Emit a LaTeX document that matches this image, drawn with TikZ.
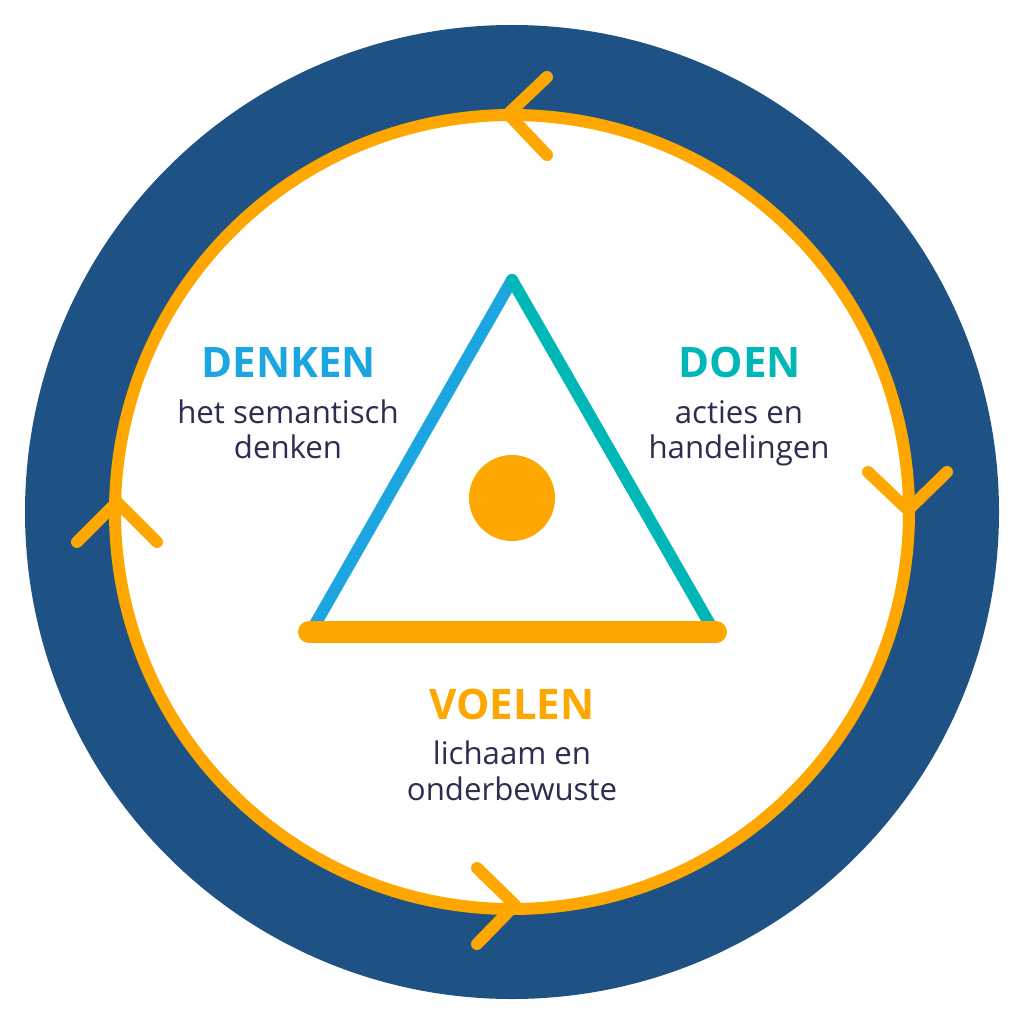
\documentclass[tikz,border=0pt]{standalone}
\usepackage{fontspec}
\setmainfont{Open Sans}
\definecolor{navy}{HTML}{1F5284}
\definecolor{orng}{HTML}{FDA700}
\definecolor{skyb}{HTML}{1BA6E2}
\definecolor{tealc}{HTML}{00B7B8}
\definecolor{txtc}{HTML}{2B2E4E}
\tikzset{
  chev/.style={draw=orng, line width=12pt, line cap=round, line join=round},
  edge/.style={line width=12pt, line cap=round},
  head/.style={font=\fontsize{42}{47}\selectfont\bfseries, anchor=base, inner sep=0pt},
  body/.style={font=\fontsize{31.2}{35}\selectfont, text=txtc, anchor=base, inner sep=0pt},
}
\begin{document}
\begin{tikzpicture}[x=1pt,y=-1pt]
\useasboundingbox (0,0) rectangle (1024,1024);
\fill[navy] (512,512) circle (487);
\fill[white] (512,512) circle (397);
\draw[orng, line width=12pt] (512,512) circle (397);
% chevrons
\draw[chev] (547,77) -- (508,114) -- (547,155);
\draw[chev] (868,472) -- (908,510) -- (947,472);
\draw[chev] (477,868) -- (515,905) -- (477,944);
\draw[chev] (77,542) -- (117,502) -- (157,542);
% triangle
\coordinate (apex) at (512,280);
\coordinate (bl) at (313,628);
\coordinate (br) at (712,628);
\coordinate (bl2) at (309,632);
\coordinate (br2) at (716,632);
\draw[edge, skyb] (bl) -- (apex);
\draw[edge, tealc] (apex) -- (br);
\draw[orng, line width=22pt, line cap=round] (bl2) -- (br2);
\fill[orng] (512,498) circle (43);
% texts
\node[head, text=skyb] (denken) at (289,377) {DENKEN};
\node[body] (denk1) at (288,423) {het semantisch};
\node[body] (denk2) at (288,458) {denken};
\node[head, text=tealc] (doen) at (740,377) {DOEN};
\node[body] (doen1) at (739,423) {acties en};
\node[body] (doen2) at (739,458) {handelingen};
\node[head, text=orng] (voelen) at (512,719) {VOELEN};
\node[body] (voel1) at (512,764) {lichaam en};
\node[body] (voel2) at (512,800) {onderbewuste};
\end{tikzpicture}
\end{document}
